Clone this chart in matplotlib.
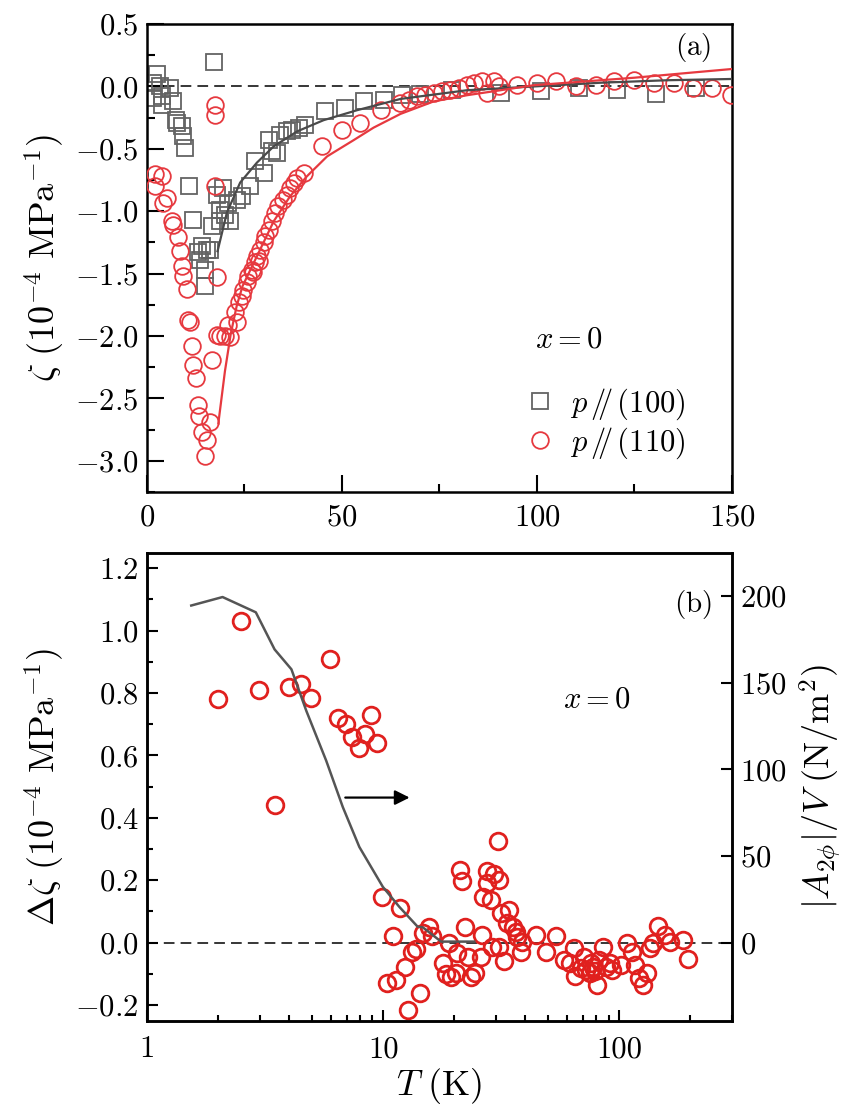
import numpy as np
import matplotlib
matplotlib.use("Agg")
import matplotlib.pyplot as plt
from matplotlib.ticker import MultipleLocator, FixedLocator, NullFormatter
from matplotlib.lines import Line2D

plt.rcParams['font.family'] = 'serif'
plt.rcParams['font.serif'] = ['cmr10', 'DejaVu Serif']
plt.rcParams['mathtext.fontset'] = 'cm'
plt.rcParams['axes.formatter.use_mathtext'] = True

# ---- panel (a): zeta vs T, p // (100) squares
t_100 = [1.6, 2.5, 3.3, 5.9, 1.6, 3.8, 6.8, 3.8, 7.4, 7.6, 8.9, 9.3, 9.8,
         10.9, 11.9, 13.2, 14.0, 15.3, 13.6, 14.9, 14.9, 17.2,
         16.2, 16.6, 17.9, 18.8, 18.8, 19.6, 20.0, 20.9, 21.3, 23.0, 24.3,
         26.5, 27.7, 29.9, 31.2, 32.0, 33.3, 34.2, 35.9, 37.2, 38.9, 40.6,
         45.7, 50.9, 55.6, 60.7, 65.4, 70.0, 78.2, 90.7, 101.0, 110.8,
         120.6, 130.5, 140.8]
z_100 = [0.03, 0.10, 0.00, -0.01, -0.09, -0.08, -0.12, -0.15, -0.27, -0.29, -0.32, -0.40, -0.49,
         -0.80, -1.07, -1.33, -1.28, -1.31, -1.39, -1.47, -1.60, 0.20,
         -1.31, -1.12, -0.87, -0.99, -1.08, -0.81, -1.03, -0.93, -1.08, -0.91, -0.88,
         -0.80, -0.60, -0.69, -0.43, -0.52, -0.53, -0.39, -0.36, -0.35, -0.33, -0.31,
         -0.20, -0.17, -0.12, -0.11, -0.07, -0.06, -0.03, -0.05, -0.04, -0.01,
         -0.03, -0.06, -0.01]

# p // (110) circles
t_110 = [2.1, 3.8, 2.1, 5.1, 4.2, 6.3, 6.8, 8.0, 8.5, 8.9, 9.3, 10.2, 10.6, 11.0,
         11.5, 11.9, 12.6, 13.0, 13.4, 14.0, 15.3, 14.9, 16.2, 16.6,
         17.5, 17.5, 17.5, 17.9, 17.9, 18.8, 20.0, 21.3, 20.9, 22.6, 23.0, 23.5,
         24.3, 24.7, 25.6, 26.0, 26.9, 27.3, 27.7, 28.2, 28.6, 29.0, 29.9, 30.3,
         31.2, 32.0, 32.9, 33.7, 35.0, 35.9, 36.7, 37.6, 38.5, 40.2,
         44.9, 50.0, 54.7, 59.9, 65.0, 67.1, 69.3, 71.4, 73.5, 75.7, 77.8, 80.0,
         82.1, 83.8, 86.0, 87.3, 89.0, 90.3, 95.0, 100.1, 104.8, 109.9, 115.1,
         119.8, 124.9, 130.1, 135.2, 139.9, 145.0, 149.8]
z_110 = [-0.70, -0.72, -0.80, -0.89, -0.93, -1.08, -1.11, -1.21, -1.32, -1.44, -1.52, -1.62, -1.87, -1.89,
         -2.08, -2.23, -2.34, -2.55, -2.64, -2.77, -2.83, -2.96, -2.69, -2.19,
         -0.15, -0.23, -0.80, -1.53, -1.99, -2.00, -2.00, -2.01, -1.91, -1.81, -1.89, -1.73,
         -1.68, -1.63, -1.57, -1.52, -1.47, -1.49, -1.41, -1.36, -1.40, -1.31, -1.25, -1.20,
         -1.15, -1.08, -1.01, -0.96, -0.91, -0.87, -0.81, -0.77, -0.73, -0.69,
         -0.48, -0.35, -0.29, -0.19, -0.13, -0.11, -0.08, -0.07, -0.05, -0.04, -0.03, -0.01,
         0.01, 0.03, 0.04, -0.05, 0.04, 0.00, 0.01, 0.03, 0.04, 0.00, 0.01,
         0.04, 0.05, 0.03, 0.03, -0.01, -0.01, -0.07]

# fit curves
fit_t_100 = [18.1, 20.5, 23.9, 28.2, 32.5, 38.5, 45.3, 53.9, 65.0, 82.1, 99.2, 116.4, 133.5, 150.0]
fit_z_100 = [-1.32, -1.01, -0.77, -0.61, -0.48, -0.36, -0.27, -0.19, -0.10, -0.03, 0.00, 0.03, 0.05, 0.06]
fit_t_110 = [18.3, 20.0, 21.5, 23.0, 24.5, 28.2, 32.5, 36.7, 41.0, 46.2, 53.0, 58.1, 65.0,
             73.5, 82.1, 90.7, 99.2, 107.8, 124.9, 150.0]
fit_z_110 = [-2.70, -2.28, -1.98, -1.76, -1.60, -1.36, -1.08, -0.88, -0.72, -0.56, -0.43, -0.33, -0.22,
             -0.12, -0.07, -0.03, 0.01, 0.03, 0.07, 0.14]

# ---- panel (b): delta zeta vs T (log) and |A2phi|/V
t_b = [2.49, 2.00, 2.98, 3.98, 4.48, 4.97, 5.94, 6.43, 6.94, 7.38, 7.87, 8.4, 8.9, 9.4, 3.47,
       9.9, 11.8, 10.96, 10.35, 11.36, 12.4, 13.3, 13.8, 14.3, 12.8, 14.7, 15.6, 16.1,
       19.0, 18.0, 18.5, 19.4, 20.3, 20.6, 21.1, 21.5, 22.3, 22.9, 23.5, 24.6, 25.9,
       26.3, 26.6, 27.4, 27.6, 28.6, 29.5, 30.8, 30.5, 29.0, 31.0, 31.5, 32.5, 34.1,
       33.6, 35.3, 36.4, 37.0, 38.2, 38.8, 44.3, 48.8, 53.8, 58.3, 62.1, 64.1, 65.2,
       68.6, 71.0, 72.2, 75.0, 77.1, 76.0, 79.0, 80.8, 82.0, 85.3, 87.6, 91.5, 93.4,
       101.4, 108.0, 112.8, 116.9, 120.8, 126.0, 131.0, 135.0, 139.4, 146.0, 156.0,
       164.7, 186.0, 195.0]
dz_b = [1.03, 0.78, 0.81, 0.82, 0.83, 0.785, 0.91, 0.72, 0.70, 0.66, 0.625, 0.67, 0.73, 0.64, 0.44,
        0.145, 0.11, 0.02, -0.13, -0.12, -0.077, -0.03, -0.02, -0.16, -0.215, 0.03, 0.05, 0.02,
        0.00, -0.066, -0.10, -0.11, -0.098, -0.034, 0.234, 0.197, 0.05, -0.045, -0.11, -0.098, -0.045,
        0.025, 0.147, 0.23, 0.19, 0.136, 0.22, 0.20, 0.325, -0.013, -0.013, 0.094, -0.06, 0.104,
        0.062, 0.051, 0.035, 0.019, -0.029, 0.003, 0.025, -0.029, 0.021, -0.055, -0.066, -0.018, -0.108,
        -0.082, -0.045, -0.087, -0.098, -0.077, -0.066, -0.092, -0.135, -0.055, -0.013, -0.077, -0.066, -0.087,
        -0.071, 0.0, -0.029, -0.071, -0.114, -0.135, -0.098, -0.018, 0.0, 0.053, 0.025,
        0.003, 0.009, -0.052]

t_a2 = [1.54, 2.09, 2.89, 3.47, 4.09, 4.73, 5.74, 6.75, 7.93, 9.97, 11.7, 14.0, 14.7, 17.6, 24.3]
a2_b = [194.5, 199.4, 190.6, 169.2, 157.7, 133.7, 105.0, 78.2, 55.2, 32.2, 20.7, 9.2, 8.9, 0.6, 0.6]

red_a = '#e6393f'
red_b = '#e0201e'
TICK_FS = 22
LABEL_FS = 26

fig = plt.figure(figsize=(8.48, 11.04), dpi=100)
ax1 = fig.add_axes([0.1733, 0.5543, 0.6899, 0.4239])
ax2 = fig.add_axes([0.1733, 0.0755, 0.6899, 0.4239])

# panel (a)
ax1.axhline(0, color='k', lw=1.1, dashes=(7, 4), zorder=1)
ax1.plot(t_100, z_100, 's', ms=11, mfc='none', mec='#636363', mew=1.3, zorder=2)
ax1.plot(t_110, z_110, 'o', ms=12, mfc='none', mec=red_a, mew=1.3, zorder=3)
ax1.plot(fit_t_100, fit_z_100, '-', color='#4a4a4a', lw=1.6, zorder=4)
ax1.plot(fit_t_110, fit_z_110, '-', color=red_a, lw=1.6, zorder=4)
ax1.set_xlim(0, 150)
ax1.set_ylim(-3.25, 0.5)
ax1.xaxis.set_major_locator(MultipleLocator(50))
ax1.xaxis.set_minor_locator(MultipleLocator(25))
ax1.yaxis.set_major_locator(MultipleLocator(0.5))
ax1.yaxis.set_minor_locator(MultipleLocator(0.25))
ax1.tick_params(which='both', direction='in', width=1.5, labelsize=TICK_FS, top=False, right=False)
ax1.tick_params(which='major', length=12)
ax1.tick_params(which='minor', length=6)
ax1.tick_params(axis='x', pad=9)
ax1.tick_params(axis='y', pad=6)
ax1.set_ylabel(r'$\zeta\ (10^{-4}\ \mathrm{MPa}^{-1})$', fontsize=LABEL_FS, labelpad=6)
ax1.text(0.933, 0.95, r'$\mathrm{(a)}$', transform=ax1.transAxes, fontsize=21,
         ha='center', va='center')
ax1.text(0.721, 0.325, r'$x=0$', transform=ax1.transAxes, fontsize=TICK_FS,
         ha='center', va='center')
handles = [Line2D([], [], ls='none', marker='s', ms=11, mfc='none', mec='#636363', mew=1.3),
           Line2D([], [], ls='none', marker='o', ms=12, mfc='none', mec=red_a, mew=1.3)]
ax1.legend(handles, [r'$p\,/\!\!/\,(100)$', r'$p\,/\!\!/\,(110)$'], loc='upper left',
           bbox_to_anchor=(0.645, 0.225), frameon=False, fontsize=TICK_FS, handlelength=1.0,
           handletextpad=0.5, borderpad=0, borderaxespad=0, labelspacing=0.1)

# panel (b)
ax2.axhline(0, color='k', lw=1.1, dashes=(7, 4), zorder=1)
ax2.plot(t_b, dz_b, 'o', ms=12, mfc='none', mec=red_b, mew=2.0, zorder=3)
ax2.set_xscale('log')
ax2.set_xlim(1, 300)
ax2.set_ylim(-0.25, 1.25)
ax2.set_xticks([1, 10, 100])
ax2.set_xticklabels(['1', '10', '100'])
ax2.xaxis.set_minor_locator(FixedLocator([k * 10 ** e for e in range(0, 3) for k in range(2, 10)
                                          if k * 10 ** e <= 300]))
ax2.xaxis.set_minor_formatter(NullFormatter())
ax2.yaxis.set_major_locator(MultipleLocator(0.2))
ax2.yaxis.set_minor_locator(MultipleLocator(0.1))
ax2.tick_params(which='both', direction='in', width=1.5, labelsize=TICK_FS, top=False, right=False)
ax2.tick_params(which='major', length=8)
ax2.tick_params(which='minor', length=4)
ax2.tick_params(axis='x', pad=11)
ax2.tick_params(axis='y', pad=6)
ax2.set_xlabel(r'$T\ (\mathrm{K})$', fontsize=LABEL_FS, labelpad=2)
ax2.set_ylabel(r'$\Delta\zeta\ (10^{-4}\ \mathrm{MPa}^{-1})$', fontsize=LABEL_FS, labelpad=6)
ax2.text(0.933, 0.89, r'$\mathrm{(b)}$', transform=ax2.transAxes, fontsize=21,
         ha='center', va='center')
ax2.text(0.770, 0.685, r'$x=0$', transform=ax2.transAxes, fontsize=TICK_FS,
         ha='center', va='center')
ax2.annotate('', xy=(13.3, 0.465), xytext=(6.73, 0.465),
             arrowprops=dict(arrowstyle='-|>', color='k', lw=1.6, mutation_scale=22))

ax3 = ax2.twinx()
ax3.plot(t_a2, a2_b, '-', color='#555555', lw=1.8, zorder=2)
ax3.set_ylim(-45, 225)
ax3.yaxis.set_major_locator(MultipleLocator(50))
ax3.tick_params(which='both', direction='in', width=1.5, length=8, labelsize=TICK_FS, pad=6)
ax3.set_ylabel(r'$|A_{2\phi}|/V\ (\mathrm{N/m}^2)$', fontsize=LABEL_FS, labelpad=8)

for ax in (ax1, ax2, ax3):
    for sp in ax.spines.values():
        sp.set_linewidth(1.8)

fig.savefig('out.png', dpi=100)
